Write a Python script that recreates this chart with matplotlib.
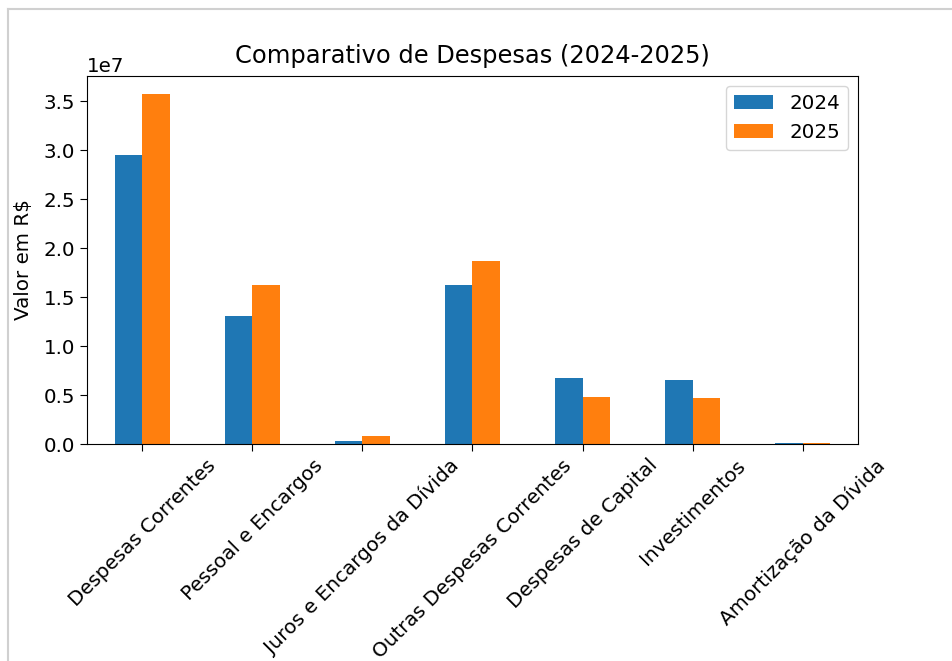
import matplotlib
matplotlib.use("Agg")
import matplotlib.pyplot as plt
import numpy as np
import pandas as pd
from matplotlib.lines import Line2D

categorias = ["Despesas Correntes", "Pessoal e Encargos", "Juros e Encargos da Dívida",
              "Outras Despesas Correntes", "Despesas de Capital", "Investimentos",
              "Amortização da Dívida"]
valores_2024 = [2.95e7, 1.31e7, 0.03e7, 1.62e7, 0.67e7, 0.65e7, 0.012e7]
valores_2025 = [3.58e7, 1.62e7, 0.08e7, 1.87e7, 0.48e7, 0.47e7, 0.008e7]

df = pd.DataFrame({"2024": valores_2024, "2025": valores_2025}, index=categorias)

fig = plt.figure(figsize=(9.53, 6.61), dpi=100)
ax = fig.add_axes([87 / 953, 1 - 444 / 661, 771 / 953, 368 / 661])

df.plot(kind="bar", ax=ax, rot=45)

fs = 14.3
ax.set_title("Comparativo de Despesas (2024-2025)", fontsize=17.4, pad=9)
ax.set_ylabel("Valor em R$", fontsize=fs, labelpad=7.5)
ax.tick_params(labelsize=fs, length=5)
ax.yaxis.get_offset_text().set_fontsize(fs)
ax.legend(fontsize=fs, loc="upper right")

# moldura da captura de tela
fig.add_artist(Line2D([8 / 953, 1], [1 - 9 / 661] * 2, color="#d0d0d0", lw=1.5))
fig.add_artist(Line2D([8 / 953] * 2, [0, 1 - 9 / 661], color="#d0d0d0", lw=1.5))

fig.savefig("out.png", dpi=100)
